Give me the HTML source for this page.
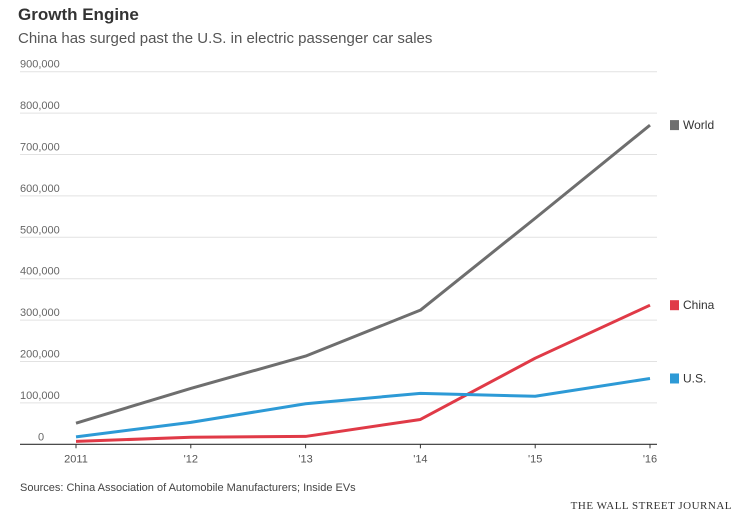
<!DOCTYPE html>
<html><head><meta charset="utf-8"><style>
body{margin:0;background:#fff;font-family:"Liberation Sans",sans-serif;}
#wrap{position:relative;width:748px;height:525px;overflow:hidden;}
.t{position:absolute;white-space:nowrap;}
</style></head><body>
<div id="wrap">
<div class="t" style="left:18px;top:5px;font-size:17px;font-weight:bold;color:#333;">Growth Engine</div>
<div class="t" style="left:18px;top:30px;font-size:15px;color:#555;">China has surged past the U.S. in electric passenger car sales</div>
<svg id="chart" width="748" height="525" style="position:absolute;left:0;top:0"></svg>
<div class="t" style="left:20px;top:482px;font-size:11px;color:#444;">Sources: China Association of Automobile Manufacturers; Inside EVs</div>
<div class="t" style="right:16px;top:500px;font-size:11px;color:#333;letter-spacing:0.5px;font-family:'Liberation Serif',serif;">THE WALL STREET JOURNAL</div>
</div>
<script>
const years=["2011","'12","'13","'14","'15","'16"];
const world=[51000,135000,213000,324000,546000,771000];
const china=[7000,17000,19000,60000,208000,336000];
const us=[18000,53000,98000,123000,116000,159000];
const yTicks=[0,100000,200000,300000,400000,500000,600000,700000,800000,900000];
const seriesNames=["World","China","U.S."];
const NS="http://www.w3.org/2000/svg";
const svg=document.getElementById('chart');
const x=i=>76+i*114.8;
const y=v=>444.3-v/100000*41.4;
function mk(t,a){const e=document.createElementNS(NS,t);for(const k in a)e.setAttribute(k,a[k]);svg.appendChild(e);return e;}
yTicks.forEach(v=>{
  if(v>0){const g=mk('line',{x1:20,x2:657,y1:y(v),y2:y(v),stroke:'#e2e2e2','stroke-width':1});
  
  }
  const t=mk('text',{x:v===0?38:20,y:y(v)-4,'font-size':11,fill:'#666'});
  t.textContent=v===0?'0':v.toLocaleString('en-US');
  
  
});
const ax=mk('line',{x1:20,x2:657,y1:y(0),y2:y(0),stroke:'#333','stroke-width':1.2});


years.forEach((yr,i)=>{
  const tk=mk('line',{x1:x(i),x2:x(i),y1:y(0),y2:y(0)+4,stroke:'#333'});
  
  
  const t=mk('text',{x:x(i),y:y(0)+18,'font-size':11,fill:'#555','text-anchor':'middle'});
  t.textContent=yr;
  
  
});
const all=[world,china,us],cols=['#6e6e6e','#e03a47','#2d9ad6'],names=['world-line','china-line','us-line'];
all.forEach((s,k)=>{
  const p=mk('polyline',{points:s.map((v,i)=>x(i)+','+y(v)).join(' '),fill:'none',stroke:cols[k],'stroke-width':3,'stroke-linejoin':'round'});
  
  
  const ly=y(s[s.length-1]);
  const r=mk('rect',{x:670,y:ly-5,width:9,height:10,fill:cols[k]});
  
  
  const t=mk('text',{x:683,y:ly+4,'font-size':12,fill:'#333'});
  t.textContent=seriesNames[k];
  
  
});
</script>
</body></html>
